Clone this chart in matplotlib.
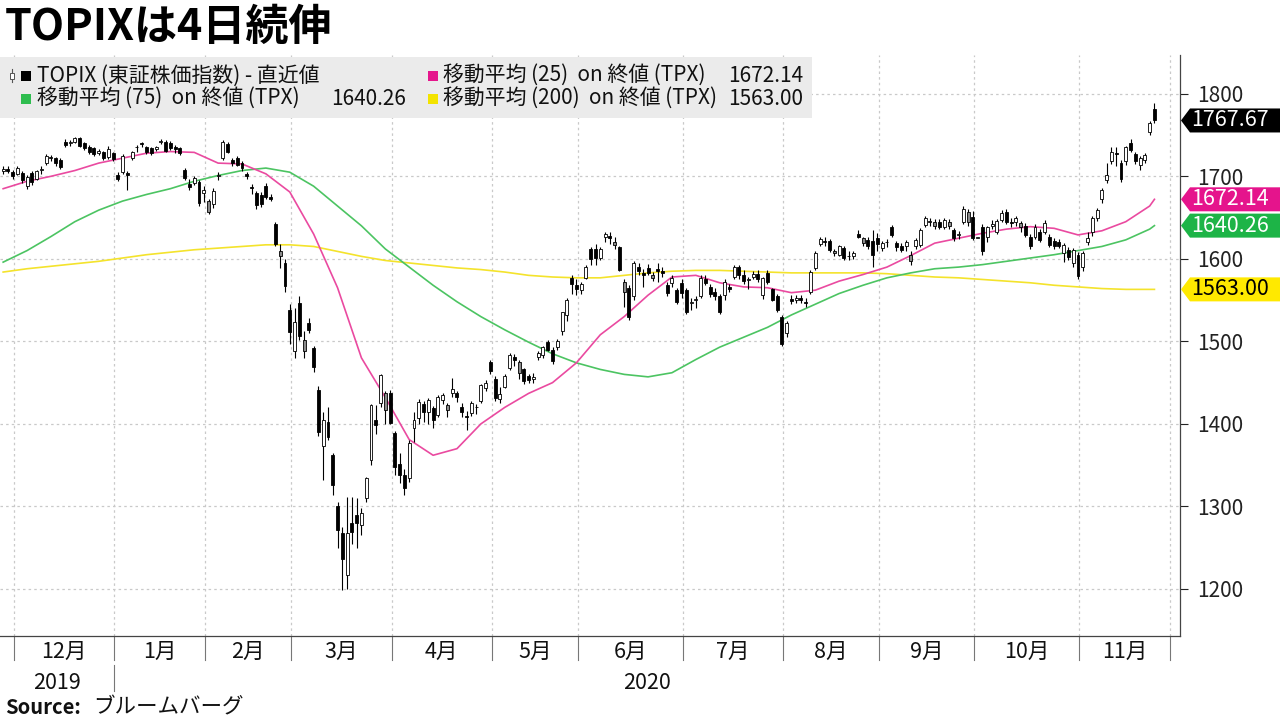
import numpy as np
import matplotlib
matplotlib.use("Agg")
import matplotlib.pyplot as plt
from matplotlib.patches import Rectangle, Polygon

plt.rcParams['font.family'] = ['Noto Sans CJK JP', 'DejaVu Sans']

# ---------------- data (daily TOPIX candles, Nov 27 2019 - Nov 25 2020) ----------------
opens = [
    1706, 1709, 1705,
    1703, 1704, 1688, 1704, 1697, 1708, 1716, 1722, 1722, 1720, 1742, 1740, 1742, 1746, 1740, 1736, 1734, 1728, 1729, 1723, 1728,
    1702, 1705, 1704, 1722, 1735, 1740, 1735, 1734, 1733, 1741, 1741, 1740, 1736, 1734, 1708, 1691, 1692, 1693, 1680,
    1657, 1666, 1700, 1722, 1739, 1720, 1722, 1716, 1703, 1687, 1680, 1677, 1688, 1675, 1642, 1603, 1595, 1538,
    1488, 1546, 1488, 1522, 1492, 1441, 1373, 1402, 1362, 1300, 1268, 1217, 1280, 1290, 1278, 1310, 1356, 1405, 1425, 1417, 1438,
    1389, 1352, 1338, 1335, 1395, 1407, 1424, 1415, 1419, 1411, 1429, 1417, 1438, 1437, 1421, 1410, 1413, 1420, 1428, 1444, 1475,
    1455, 1430, 1445, 1468, 1481, 1462, 1466, 1458, 1455, 1481, 1484, 1499, 1490, 1493, 1512, 1532, 1577, 1568,
    1562, 1577, 1612, 1612, 1601, 1627, 1628, 1617, 1614, 1560, 1565, 1555, 1590, 1583, 1589, 1577, 1588, 1585, 1568, 1571, 1562, 1571,
    1562, 1546, 1550, 1555, 1576, 1566, 1560, 1555, 1556, 1566, 1578, 1590, 1581, 1574, 1578, 1582, 1556, 1583, 1563, 1555, 1530,
    1510, 1551, 1550, 1552, 1548, 1560, 1589, 1618, 1622, 1622, 1607, 1605, 1613, 1603, 1603, 1630, 1619, 1623, 1622, 1625,
    1613, 1620, 1638, 1619, 1616, 1615, 1597, 1615, 1617, 1641, 1645, 1640, 1645, 1639, 1640, 1635, 1629, 1645, 1645, 1651,
    1625, 1638, 1627, 1640, 1633, 1647, 1657, 1645, 1645, 1638, 1640, 1627, 1627, 1632, 1633, 1627, 1622, 1621, 1607, 1611, 1595, 1605,
    1590, 1621, 1632, 1650, 1672, 1696, 1718, 1728, 1716, 1718, 1740, 1727, 1714, 1720, 1754, 1781,
]
highs = [
    1712, 1713, 1708,
    1712, 1706, 1702, 1706, 1708, 1712, 1727, 1726, 1724, 1722, 1745, 1744, 1748, 1748, 1742, 1738, 1736, 1733, 1731, 1737, 1730,
    1705, 1727, 1707, 1731, 1738, 1742, 1737, 1735, 1737, 1745, 1744, 1743, 1738, 1736, 1710, 1697, 1700, 1695, 1688,
    1673, 1686, 1705, 1744, 1741, 1722, 1725, 1718, 1705, 1691, 1682, 1681, 1692, 1678, 1645, 1618, 1600, 1545,
    1541, 1555, 1512, 1528, 1495, 1446, 1415, 1420, 1365, 1305, 1275, 1312, 1312, 1310, 1298, 1336, 1424, 1423, 1460, 1440, 1441,
    1392, 1365, 1345, 1380, 1415, 1430, 1428, 1431, 1422, 1435, 1438, 1425, 1456, 1440, 1425, 1416, 1428, 1424, 1448, 1453, 1478,
    1458, 1445, 1460, 1486, 1485, 1478, 1468, 1461, 1462, 1488, 1495, 1502, 1493, 1503, 1536, 1552, 1580, 1576,
    1572, 1592, 1614, 1618, 1614, 1632, 1632, 1627, 1616, 1576, 1568, 1597, 1595, 1588, 1594, 1584, 1595, 1590, 1572, 1580, 1565, 1575,
    1565, 1552, 1555, 1580, 1580, 1570, 1565, 1558, 1575, 1570, 1592, 1593, 1586, 1578, 1585, 1586, 1578, 1586, 1565, 1558, 1532,
    1525, 1556, 1556, 1556, 1552, 1586, 1609, 1627, 1627, 1624, 1612, 1617, 1616, 1609, 1610, 1635, 1627, 1626, 1635, 1631,
    1622, 1624, 1641, 1622, 1619, 1623, 1609, 1625, 1637, 1652, 1650, 1648, 1648, 1650, 1648, 1637, 1634, 1664, 1660, 1658,
    1625, 1642, 1640, 1647, 1648, 1659, 1660, 1650, 1652, 1646, 1643, 1630, 1642, 1636, 1647, 1630, 1625, 1624, 1619, 1614, 1613, 1608,
    1609, 1632, 1652, 1662, 1686, 1716, 1735, 1735, 1720, 1737, 1745, 1730, 1725, 1728, 1767, 1789,
]
lows = [
    1703, 1704, 1697,
    1701, 1692, 1685, 1690, 1695, 1703, 1714, 1718, 1713, 1709, 1736, 1737, 1740, 1735, 1732, 1727, 1725, 1726, 1720, 1721, 1718,
    1694, 1703, 1684, 1720, 1730, 1735, 1727, 1726, 1731, 1739, 1729, 1732, 1728, 1726, 1696, 1683, 1690, 1664, 1669,
    1654, 1662, 1696, 1720, 1728, 1713, 1712, 1707, 1697, 1679, 1661, 1663, 1672, 1670, 1615, 1589, 1560, 1497,
    1480, 1502, 1480, 1510, 1463, 1385, 1332, 1380, 1314, 1250, 1199, 1200, 1255, 1250, 1265, 1305, 1350, 1388, 1420, 1400, 1400,
    1338, 1328, 1314, 1330, 1378, 1400, 1402, 1400, 1395, 1408, 1424, 1408, 1432, 1426, 1408, 1393, 1410, 1412, 1425, 1440, 1460,
    1428, 1425, 1443, 1465, 1470, 1455, 1448, 1449, 1450, 1478, 1480, 1488, 1473, 1490, 1508, 1525, 1557, 1556,
    1558, 1575, 1593, 1592, 1598, 1620, 1618, 1612, 1585, 1542, 1526, 1550, 1580, 1566, 1580, 1573, 1572, 1578, 1555, 1566, 1545, 1552,
    1533, 1538, 1540, 1552, 1568, 1554, 1550, 1533, 1550, 1560, 1575, 1576, 1570, 1563, 1576, 1572, 1551, 1570, 1549, 1536, 1495,
    1505, 1545, 1546, 1546, 1542, 1558, 1586, 1615, 1615, 1608, 1603, 1603, 1598, 1598, 1600, 1625, 1615, 1612, 1590, 1610,
    1610, 1614, 1627, 1610, 1608, 1610, 1592, 1612, 1614, 1638, 1640, 1636, 1636, 1636, 1636, 1622, 1624, 1642, 1640, 1623,
    1625, 1605, 1620, 1636, 1630, 1645, 1642, 1638, 1640, 1632, 1626, 1612, 1624, 1620, 1630, 1614, 1612, 1613, 1596, 1598, 1590, 1575,
    1585, 1617, 1628, 1646, 1668, 1692, 1715, 1712, 1693, 1714, 1730, 1715, 1708, 1716, 1750, 1765,
]
closes = [
    1709, 1706, 1700,
    1710, 1695, 1699, 1693, 1706, 1709, 1725, 1722, 1716, 1711, 1738, 1741, 1746, 1737, 1734, 1729, 1727, 1731, 1722, 1733, 1721,
    1697, 1725, 1701, 1729, 1736, 1739, 1729, 1728, 1735, 1743, 1731, 1734, 1733, 1728, 1698, 1687, 1698, 1668, 1684,
    1670, 1682, 1702, 1741, 1730, 1716, 1714, 1710, 1700, 1686, 1665, 1667, 1675, 1672, 1618, 1610, 1567, 1511,
    1524, 1507, 1502, 1514, 1469, 1390, 1405, 1384, 1326, 1271, 1236, 1268, 1269, 1280, 1292, 1334, 1423, 1399, 1459, 1438, 1401,
    1348, 1338, 1322, 1377, 1405, 1427, 1415, 1429, 1405, 1433, 1435, 1423, 1442, 1433, 1415, 1408, 1425, 1421, 1447, 1450, 1464,
    1431, 1436, 1458, 1484, 1478, 1475, 1452, 1453, 1457, 1486, 1493, 1490, 1476, 1500, 1535, 1550, 1570, 1563,
    1570, 1590, 1600, 1601, 1612, 1630, 1625, 1620, 1587, 1572, 1530, 1595, 1585, 1581, 1583, 1581, 1585, 1583, 1559, 1577, 1548, 1559,
    1536, 1548, 1551, 1577, 1571, 1557, 1555, 1535, 1572, 1563, 1590, 1580, 1573, 1575, 1582, 1576, 1577, 1572, 1550, 1538, 1497,
    1522, 1549, 1553, 1550, 1546, 1584, 1607, 1624, 1621, 1611, 1610, 1615, 1601, 1604, 1607, 1627, 1625, 1615, 1605, 1618,
    1619, 1621, 1629, 1614, 1611, 1621, 1605, 1623, 1635, 1650, 1646, 1645, 1639, 1647, 1645, 1625, 1630, 1661, 1657, 1625,
    1625, 1609, 1638, 1642, 1646, 1655, 1645, 1643, 1650, 1644, 1629, 1615, 1639, 1623, 1644, 1617, 1616, 1616, 1617, 1602, 1611, 1579,
    1607, 1625, 1650, 1659, 1684, 1702, 1730, 1727, 1697, 1735, 1732, 1718, 1722, 1726, 1765, 1767.67,
]

# moving averages at every 5th trading day
ma_idx = list(range(0, 241, 5)) + [241]
ma25 = [1685, 1694, 1700, 1707, 1716, 1722, 1728, 1730, 1729, 1716, 1715, 1703, 1681, 1630, 1565,
        1480, 1432, 1381, 1362, 1370, 1400, 1420, 1437, 1450, 1474, 1508, 1530, 1556, 1578, 1580,
        1571, 1566, 1565, 1559, 1562, 1573, 1581, 1590, 1604, 1619, 1625, 1631, 1636, 1639, 1637,
        1629, 1634, 1645, 1664, 1672.14]
ma75 = [1596, 1610, 1627, 1645, 1659, 1670, 1678, 1685, 1694, 1701, 1707, 1710, 1705, 1688, 1664,
        1640, 1612, 1590, 1568, 1548, 1530, 1514, 1499, 1485, 1474, 1466, 1460, 1457, 1462, 1478,
        1493, 1505, 1517, 1532, 1545, 1558, 1568, 1577, 1583, 1588, 1590, 1593, 1597, 1601, 1605,
        1610, 1615, 1623, 1636, 1640.26]
ma200 = [1584, 1588, 1591, 1594, 1597, 1601, 1605, 1608, 1611, 1613, 1615, 1617, 1617, 1615, 1609,
         1603, 1598, 1595, 1592, 1589, 1587, 1584, 1580, 1578, 1577, 1577, 1580, 1583, 1585, 1586,
         1586, 1585, 1584, 1583, 1583, 1583, 1583, 1582, 1580, 1578, 1577, 1575, 1573, 1571, 1568,
         1566, 1564, 1563, 1563, 1563.00]

month_labels = ['12月', '1月', '2月', '3月', '4月', '5月', '6月', '7月', '8月', '9月', '10月', '11月']
month_starts = [3, 24, 43, 61, 82, 103, 121, 143, 164, 184, 204, 226, 245]   # trading-day index of first day
year_labels = ['2019', '2020']
y_ticks = [1200, 1300, 1400, 1500, 1600, 1700, 1800]

title = 'TOPIXは4日続伸'
legend_rows = [
    ('TOPIX (東証株価指数) - 直近値', '', 'black'),
    ('移動平均 (25)  on 終値 (TPX)', '1672.14', '#e5168c'),
    ('移動平均 (75)  on 終値 (TPX)', '1640.26', '#2fbd4f'),
    ('移動平均 (200)  on 終値 (TPX)', '1563.00', '#f3e300'),
]

# ---------------- figure ----------------
W, H = 1280, 720
fig = plt.figure(figsize=(12.8, 7.2), dpi=100)
fig.patch.set_facecolor('white')

AX_L, AX_R, AX_T, AX_B = 0, 1180, 55, 636
AXH = AX_B - AX_T
ax = fig.add_axes([AX_L / W, 1 - AX_B / H, (AX_R - AX_L) / W, AXH / H])
ax.set_xlim(-0.66, 246.35)
ax.set_ylim(1143, 1847)
ax.set_facecolor('white')

grid_kw = dict(color='#c9c9c9', lw=0.9, ls=(0, (2, 2.5)), zorder=0)
for yv in y_ticks:
    ax.axhline(yv, **grid_kw)
bounds = [m - 0.7 for m in month_starts]
for b in bounds:
    ax.axvline(b, **grid_kw)

# moving averages
ax.plot(ma_idx, ma200, color='#f4e32c', lw=1.2, zorder=2, solid_joinstyle='round')
ax.plot(ma_idx, ma75, color='#4cc462', lw=1.2, zorder=2, solid_joinstyle='round')
ax.plot(ma_idx, ma25, color='#ea4aa0', lw=1.2, zorder=2, solid_joinstyle='round')

# candles
o = np.array(opens, float); h = np.array(highs, float)
l = np.array(lows, float); c = np.array(closes, float)
x = np.arange(len(c))
prev = np.concatenate([[o[0]], c[:-1]])
faces = []
for oi, ci, pi in zip(o, c, prev):
    if ci >= oi:
        faces.append('white' if ci >= pi else '#8a8a8a')
    else:
        faces.append('black')
ax.vlines(x, l, h, color='black', lw=0.8, zorder=3)
bottoms = np.minimum(o, c)
heights = np.maximum(np.abs(c - o), 1.0)
ax.bar(x, heights, bottom=bottoms, width=0.62, color=faces, edgecolor='black',
       linewidth=0.6, zorder=4)

# axes styling
for s in ['left', 'top']:
    ax.spines[s].set_visible(False)
for s in ['right', 'bottom']:
    ax.spines[s].set_color('#444444')
    ax.spines[s].set_linewidth(0.9)
ax.yaxis.tick_right()
ax.set_yticks(y_ticks)
ax.set_yticklabels([str(v) for v in y_ticks])
ax.tick_params(axis='y', direction='out', length=6, width=0.8, labelsize=15,
               pad=6, colors='#222222')
ax.set_xticks([])

xt = ax.get_xaxis_transform()
for b in bounds:
    ax.plot([b, b], [0, -24 / AXH], transform=xt, color='#777777', lw=0.8, clip_on=False)
for k, lab in enumerate(month_labels):
    cx = (bounds[k] + bounds[k + 1]) / 2
    ax.text(cx, -16 / AXH, lab, transform=xt, ha='center', va='center', fontsize=15.5, color='#111111')
# year labels
xl, xr = ax.get_xlim()
ax.text((xl + bounds[1]) / 2, -47 / AXH, year_labels[0], transform=xt, ha='center', va='center',
        fontsize=15.5, color='#111111')
ax.text((bounds[1] + xr) / 2, -47 / AXH, year_labels[1], transform=xt, ha='center', va='center',
        fontsize=15.5, color='#111111')
ax.plot([bounds[1], bounds[1]], [-29 / AXH, -55 / AXH], transform=xt, color='#777777', lw=0.8,
        clip_on=False)

# ---------------- right value tags ----------------
def fig_px_y(v):
    return ax.transData.transform((0, v))[1]   # display px from bottom

tags = [(closes[-1], 'black', 'white'), (ma25[-1], '#e5148c', 'white'),
        (ma75[-1], '#1db447', 'white'), (ma200[-1], '#ffe900', 'black')]
ys = [fig_px_y(v) for v, _, _ in tags]
order = np.argsort(ys)[::-1]
placed = {}
last = None
for k in order:
    yy = ys[k]
    if last is not None and last - yy < 26:
        yy = last - 26
    placed[k] = yy
    last = yy
for k, (v, bg, fg) in enumerate(tags):
    yc = placed[k]
    hh = 12
    pts = [(1181, yc), (1190, yc + hh), (1280, yc + hh), (1280, yc - hh), (1190, yc - hh)]
    pts = [(px / W, py / H) for px, py in pts]
    fig.add_artist(Polygon(pts, closed=True, transform=fig.transFigure, facecolor=bg,
                           edgecolor='none', zorder=6))
    fig.text(1191 / W, yc / H, f'{v:.2f}', color=fg, fontsize=15.5, ha='left', va='center', zorder=7)

# ---------------- legend box ----------------
fig.add_artist(Rectangle((0, 1 - 118 / H), 812 / W, 61 / H, transform=fig.transFigure,
                         facecolor='#ebebeb', edgecolor='none', zorder=5))

def sq(px, py, col):
    fig.add_artist(Rectangle((px / W, 1 - (py + 5) / H), 10 / W, 10 / H, transform=fig.transFigure,
                             facecolor=col, edgecolor='none', zorder=6))

# tiny candle icon
fig.add_artist(plt.Line2D([12 / W, 12 / W], [1 - 82 / H, 1 - 69 / H], transform=fig.transFigure,
                          color='#555555', lw=0.8, zorder=6))
fig.add_artist(Rectangle((10 / W, 1 - 79 / H), 4 / W, 6 / H, transform=fig.transFigure,
                         facecolor='white', edgecolor='#555555', lw=0.7, zorder=7))

slots = [(21, 76, 37, None), (428, 76, 443, 803), (21, 99, 37, 406), (428, 99, 443, 803)]
for (label, val, col), (sx, sy, tx, vx) in zip(legend_rows, slots):
    sq(sx, sy, col)
    fig.text(tx / W, 1 - sy / H, label, fontsize=15, ha='left', va='center', color='#111111', zorder=7)
    if vx is not None and val:
        fig.text(vx / W, 1 - sy / H, val, fontsize=15, ha='right', va='center', color='#111111', zorder=7)

# ---------------- title & source ----------------
fig.text(5 / W, 1 - 27 / H, title, fontsize=31, fontweight='bold', ha='left', va='center', color='black')
fig.text(5 / W, 1 - 707 / H, 'Source:', fontsize=14.5, fontweight='bold', ha='left', va='center', color='#111111')
fig.text(93 / W, 1 - 707 / H, 'ブルームバーグ', fontsize=15.5, ha='left', va='center', color='#111111')

fig.savefig('out.png', dpi=100, facecolor='white')
